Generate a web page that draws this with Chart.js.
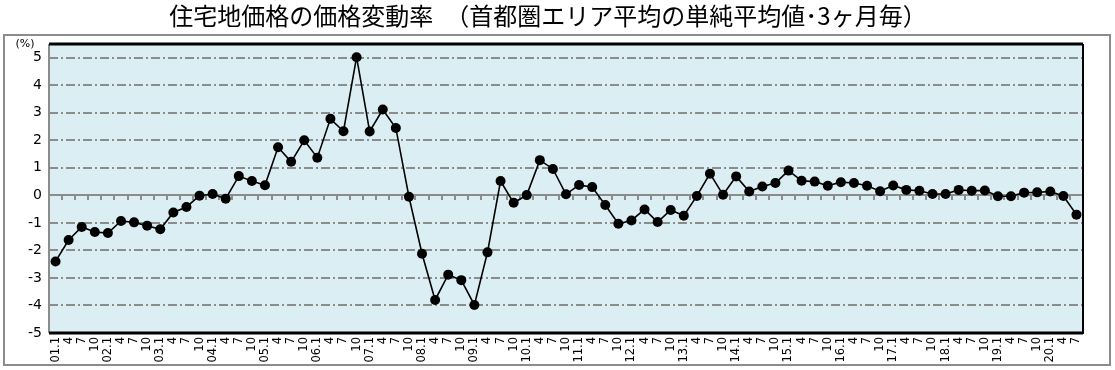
<!DOCTYPE html>
<html><head><meta charset="utf-8">
<script src="https://cdn.jsdelivr.net/npm/chart.js@4/dist/chart.umd.min.js"></script>
<style>
html,body{margin:0;padding:0;background:#fff;}
#wrap{position:relative;width:1115px;height:370px;}
#title{position:absolute;left:0;top:-1px;width:1096px;text-align:center;font-family:"Noto Sans CJK JP","Noto Sans",sans-serif;font-size:24px;line-height:32px;color:#000;white-space:nowrap;letter-spacing:0px;}
canvas{position:absolute;left:0;top:0;}
</style></head>
<body>
<div id="wrap">
<canvas id="c" width="1115" height="370"></canvas>
<div id="title">住宅地価格の価格変動率　（首都圏エリア平均の単純平均値･3ヶ月毎）</div>
</div>
<script>
const years = ["01","02","03","04","05","06","07","08","09","10","11","12","13","14","15","16","17","18","19","20"];
const months = ["1","4","7","10"];
const categories = [];
years.forEach(y => months.forEach(m => {
  if (categories.length < 79) categories.push(m === "1" ? y + ".1" : m);
}));
const changeRate = [
 -2.40, -1.62, -1.15, -1.33,
 -1.37, -0.93, -0.98, -1.10,
 -1.23, -0.62, -0.42, -0.01,
  0.05, -0.12,  0.70,  0.52,
  0.37,  1.75,  1.22,  2.00,
  1.37,  2.78,  2.33,  5.02,
  2.32,  3.12,  2.45, -0.05,
 -2.12, -3.80, -2.88, -3.08,
 -3.98, -2.07,  0.52, -0.27,
  0.01,  1.28,  0.96,  0.04,
  0.38,  0.30, -0.35, -1.03,
 -0.91, -0.51, -0.97, -0.53,
 -0.74, -0.02,  0.79,  0.02,
  0.69,  0.14,  0.32,  0.45,
  0.90,  0.53,  0.50,  0.35,
  0.48,  0.45,  0.35,  0.15,
  0.36,  0.20,  0.17,  0.05,
  0.05,  0.20,  0.17,  0.18,
 -0.03, -0.03,  0.10,  0.11,
  0.14, -0.02, -0.70
];
const yTicks = [-5,-4,-3,-2,-1,0,1,2,3,4,5];
const yUnit = "(%)";

const framePlugin = {
  id: 'frame',
  beforeDraw(chart) {
    const ctx = chart.ctx, a = chart.chartArea;
    ctx.save();
    ctx.strokeStyle = '#8c8c8c';
    ctx.lineWidth = 2;
    ctx.strokeRect(4, 35, 1106, 330);
    ctx.fillStyle = '#daeef3';
    ctx.fillRect(a.left, a.top, a.right - a.left, a.bottom - a.top);
    ctx.fillStyle = '#000';
    ctx.font = '11px "DejaVu Sans", Verdana, sans-serif';
    ctx.textAlign = 'center';
    ctx.textBaseline = 'bottom';
    ctx.fillText(yUnit, 25, 50);
    ctx.restore();
  },
  beforeDatasetsDraw(chart) {
    const ctx = chart.ctx, a = chart.chartArea;
    const x = chart.scales.x, y = chart.scales.y;
    const y0 = Math.round(y.getPixelForValue(0));
    ctx.save();
    ctx.strokeStyle = '#8c8c8c';
    ctx.lineWidth = 2;
    ctx.beginPath();
    ctx.moveTo(a.left, y0); ctx.lineTo(a.right, y0);
    ctx.stroke();
    ctx.beginPath();
    for (let i = 1; i < categories.length; i++) {
      const px = Math.round((x.getPixelForValue(i - 1) + x.getPixelForValue(i)) / 2);
      ctx.moveTo(px, y0); ctx.lineTo(px, y0 + 5);
    }
    ctx.stroke();
    ctx.beginPath();
    ctx.moveTo(a.left, a.top); ctx.lineTo(a.left, a.bottom);
    ctx.stroke();
    ctx.strokeStyle = '#000';
    ctx.lineWidth = 3;
    ctx.beginPath();
    ctx.moveTo(a.left, a.top); ctx.lineTo(a.right, a.top);
    ctx.moveTo(a.left, a.bottom); ctx.lineTo(a.right, a.bottom);
    ctx.stroke();
    ctx.lineWidth = 2;
    ctx.beginPath();
    ctx.moveTo(a.right, a.top); ctx.lineTo(a.right, a.bottom + 1);
    ctx.stroke();
    ctx.restore();
  }
};

new Chart(document.getElementById('c'), {
  type: 'line',
  data: {
    labels: categories,
    datasets: [{
      data: changeRate,
      borderColor: '#000',
      borderWidth: 1.6,
      backgroundColor: '#000',
      pointBackgroundColor: '#000',
      pointBorderColor: '#000',
      pointRadius: 5,
      pointBorderWidth: 0,
      tension: 0,
      fill: false
    }]
  },
  options: {
    responsive: false,
    animation: false,
    events: [],
    layout: { padding: { left: 0, right: 32, top: 44, bottom: 0 } },
    plugins: { legend: { display: false }, tooltip: { enabled: false }, title: { display: false } },
    scales: {
      x: {
        offset: true,
        grid: { display: false, drawTicks: false },
        border: { display: false },
        ticks: {
          autoSkip: false,
          maxRotation: 90,
          minRotation: 90,
          padding: 4,
          color: '#000',
          font: { family: '"DejaVu Sans", Verdana, sans-serif', size: 11.5 }
        },
        afterFit(s) { s.height = 37; }
      },
      y: {
        min: -5,
        max: 5.5,
        afterBuildTicks(s) { s.ticks = yTicks.map(v => ({ value: v })); },
        grid: {
          drawTicks: false,
          lineWidth: 2,
          color: ctx => (ctx.tick && (ctx.tick.value === 0 || ctx.tick.value === -5)) ? 'rgba(0,0,0,0)' : '#8c8c8c'
        },
        border: { display: false, dash: [9, 3, 2, 3] },
        ticks: {
          padding: 7,
          color: '#000',
          font: { family: '"DejaVu Sans", Verdana, sans-serif', size: 14 }
        },
        afterFit(s) { s.width = 49; }
      }
    }
  },
  plugins: [framePlugin]
});
</script>
</body></html>
